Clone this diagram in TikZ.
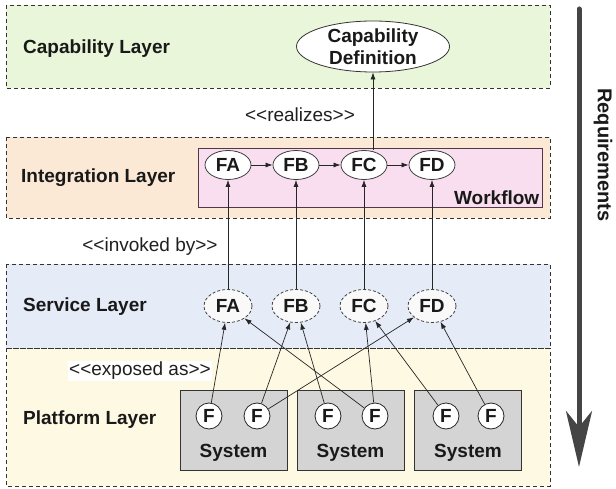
\documentclass[tikz,border=0pt]{standalone}
\usepackage{fontspec}
\setmainfont{Liberation Sans}
\usetikzlibrary{arrows.meta,shapes.geometric}
\definecolor{capfill}{HTML}{EAF6DA}
\definecolor{intfill}{HTML}{FCE9D5}
\definecolor{wffill}{HTML}{F9DEF0}
\definecolor{wfline}{HTML}{503848}
\definecolor{svcfill}{HTML}{E6EBF8}
\definecolor{platfill}{HTML}{FDF9E2}
\definecolor{sysfill}{HTML}{D4D4D4}
\definecolor{reqgray}{HTML}{454545}
\begin{document}
\begin{tikzpicture}[x=1pt,y=-1pt,
  txt/.style={font=\fontsize{19}{22}\selectfont, text=black!88},
  btxt/.style={font=\fontsize{19}{22}\selectfont\bfseries, text=black!90},
  layer/.style={draw=black!80, dash pattern=on 4pt off 3pt, line width=0.8pt},
  lname/.style={btxt, anchor=west, inner sep=0pt},
  inode/.style={ellipse, draw=black!75, fill=white, line width=0.8pt,
    minimum width=46pt, minimum height=29pt, inner sep=0pt, btxt},
  snode/.style={ellipse, draw=black!75, fill=gray!5, line width=0.8pt,
    dash pattern=on 3pt off 2pt, minimum width=48pt, minimum height=33pt,
    inner sep=0pt, btxt},
  fnode/.style={circle, draw=black!85, fill=white, line width=0.8pt,
    minimum size=26pt, inner sep=0pt, btxt},
  sysbox/.style={rectangle, draw=black!80, fill=sysfill, line width=0.8pt,
    minimum width=107pt, minimum height=80pt, inner sep=0pt},
  arr/.style={draw=black!85, line width=0.7pt, -{Latex[length=7pt,width=5pt]}},
  stereo/.style={txt, inner sep=2pt}
]
\useasboundingbox (0,0) rectangle (616,489);

% layers
\path[layer, fill=capfill] (6,5) rectangle (550,88);
\path[layer, fill=intfill] (6,137) rectangle (550,218);
\path[layer, fill=platfill] (6,348) rectangle (550,486);
\path[layer, fill=svcfill] (6,264) rectangle (550,348);

\node[lname] (lcap) at (23,49) {Capability Layer};
\node[lname] (lint) at (21,178) {Integration Layer};
\node[lname] (lsvc) at (23,307) {Service Layer};
\node[lname] (lplat) at (23,420) {Platform Layer};

% workflow box
\node[rectangle, draw=wfline, fill=wffill, line width=0.9pt,
  minimum width=344pt, minimum height=59pt, inner sep=0pt] (wf) at (370,177.5) {};
\node[btxt, anchor=south east, inner sep=3pt] (wft) at (wf.south east) {Workflow};

% capability definition
\node[ellipse, draw=black!80, fill=white, line width=0.8pt, minimum width=153pt,
  minimum height=51pt, inner sep=0pt, inner ysep=-2pt, align=center, btxt]
  (cap) at (373,46.5) {Capability\\Definition};

% integration nodes
\node[inode] (iA) at (228,165) {FA};
\node[inode] (iB) at (296,165) {FB};
\node[inode] (iC) at (364,165) {FC};
\node[inode] (iD) at (432,165) {FD};

% service nodes
\node[snode] (sA) at (228,306) {FA};
\node[snode] (sB) at (296,306) {FB};
\node[snode] (sC) at (364,306) {FC};
\node[snode] (sD) at (432,306) {FD};

% systems
\node[sysbox] (sys1) at (233.5,430) {};
\node[sysbox] (sys2) at (350.5,430) {};
\node[sysbox] (sys3) at (468,430) {};
\node[btxt] (syst1) at (233.5,453) {System};
\node[btxt] (syst2) at (350.5,453) {System};
\node[btxt] (syst3) at (468,453) {System};

\node[fnode] (p1) at (209,416) {F};
\node[fnode] (p2) at (257,416) {F};
\node[fnode] (p3) at (328,416) {F};
\node[fnode] (p4) at (375,416) {F};
\node[fnode] (p5) at (446,416) {F};
\node[fnode] (p6) at (491,416) {F};

% stereotype labels
\node[stereo] (real) at (300,115) {<{}<realizes>{}>};
\node[stereo] (inv) at (150,247) {<{}<invoked by>{}>};
\node[stereo, fill=white, inner sep=1pt] (exp) at (140,371) {<{}<exposed as>{}>};

% connectors
\draw[arr] (iA) -- (iB);
\draw[arr] (iB) -- (iC);
\draw[arr] (iC) -- (iD);
\draw[arr] (cap.south |- iC.north) -- (cap.south);

\draw[arr] (sA) -- (iA);
\draw[arr] (sB) -- (iB);
\draw[arr] (sC) -- (iC);
\draw[arr] (sD) -- (iD);

\draw[arr] (p1) -- (sA);
\draw[arr] (p2) -- (sB);
\draw[arr] (p2) -- (sD);
\draw[arr] (p3) -- (sB);
\draw[arr] (p4) -- (sA);
\draw[arr] (p4) -- (sC);
\draw[arr] (p5) -- (sC);
\draw[arr] (p6) -- (sD);

% requirements arrow
\coordinate (rtop) at (579,9);
\coordinate (rbot) at (579,467);
\draw[reqgray, line width=5pt, line cap=round,
  -{Stealth[length=56pt,width=26pt,inset=16pt]}] (rtop) -- (rbot);
\node[btxt, rotate=-90, font=\fontsize{20}{24}\selectfont\bfseries] (req) at (603,155) {Requirements};
\end{tikzpicture}
\end{document}
